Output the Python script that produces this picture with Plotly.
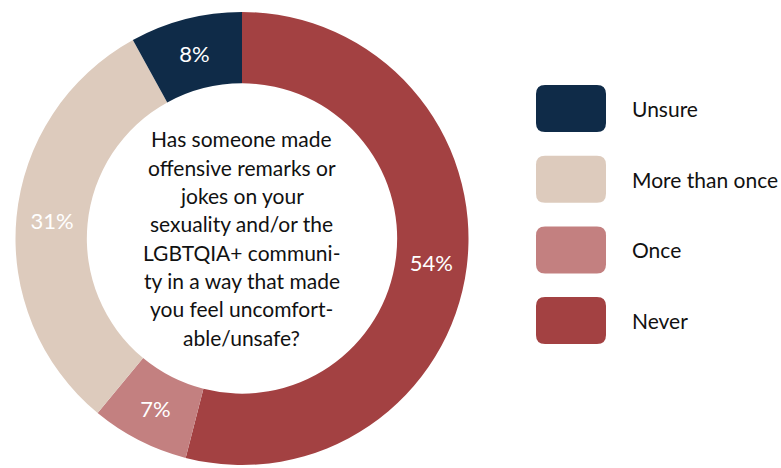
import plotly.graph_objects as go

# Survey responses, in drawing order (clockwise from 12 o'clock)
categories = ["Never", "Once", "More than once", "Unsure"]
shares = [54, 7, 31, 8]
colors = ["#a34142", "#c38080", "#ddcbbd", "#0f2b48"]

# Legend order (top to bottom)
legend_order = ["Unsure", "More than once", "Once", "Never"]

question_lines = [
    "Has someone made",
    "offensive remarks or",
    "jokes on your",
    "sexuality and/or the",
    "LGBTQIA+ communi-",
    "ty in a way that made",
    "you feel uncomfort-",
    "able/unsafe?",
]

W, H = 781, 468
FONT = "Lato"

fig = go.Figure()
fig.add_trace(go.Pie(
    labels=categories,
    values=shares,
    sort=False,
    direction="clockwise",
    rotation=0,
    hole=0.685,
    marker=dict(colors=colors, line=dict(width=0)),
    texttemplate="%{value}%",
    textposition="inside",
    insidetextorientation="horizontal",
    textfont=dict(family=FONT, size=22, color="white"),
    domain=dict(x=[15 / W, 469 / W], y=[1 - 465 / H, 1 - 12 / H]),
    showlegend=False,
    hoverinfo="label+percent",
))

# Question text in the hole, one line at a time
cx, cy = 242, 238
line_h = 28.3
top = cy - line_h * (len(question_lines) - 1) / 2
for i, line in enumerate(question_lines):
    y = top + i * line_h
    fig.add_annotation(
        x=cx / W, y=1 - y / H, xref="paper", yref="paper",
        text=line, showarrow=False,
        xanchor="center", yanchor="middle",
        font=dict(family=FONT, size=21, color="#111111"),
    )


def rounded_rect(x0, y0, x1, y1, r):
    """SVG path for a rounded rectangle given in pixels, returned in paper units."""
    def p(x, y):
        return f"{x / W:.5f},{1 - y / H:.5f}"
    return (
        f"M {p(x0 + r, y0)} L {p(x1 - r, y0)} Q {p(x1, y0)} {p(x1, y0 + r)} "
        f"L {p(x1, y1 - r)} Q {p(x1, y1)} {p(x1 - r, y1)} "
        f"L {p(x0 + r, y1)} Q {p(x0, y1)} {p(x0, y1 - r)} "
        f"L {p(x0, y0 + r)} Q {p(x0, y0)} {p(x0 + r, y0)} Z"
    )


# Custom legend: rounded swatches with labels
color_of = dict(zip(categories, colors))
sw_x0, sw_x1 = 536, 606
sw_y0, sw_h, step = 85, 47, 70.7
for i, name in enumerate(legend_order):
    y0 = sw_y0 + i * step
    fig.add_shape(
        type="path", xref="paper", yref="paper",
        path=rounded_rect(sw_x0, y0, sw_x1, y0 + sw_h, 9),
        fillcolor=color_of[name], line=dict(width=0),
    )
    fig.add_annotation(
        x=630 / W, y=1 - (y0 + sw_h / 2) / H, xref="paper", yref="paper",
        text=name, showarrow=False, xanchor="left", yanchor="middle",
        font=dict(family=FONT, size=21, color="#111111"),
    )

fig.update_layout(
    width=W, height=H,
    margin=dict(l=0, r=0, t=0, b=0),
    paper_bgcolor="white",
    plot_bgcolor="white",
)

fig.write_html("out.html")
